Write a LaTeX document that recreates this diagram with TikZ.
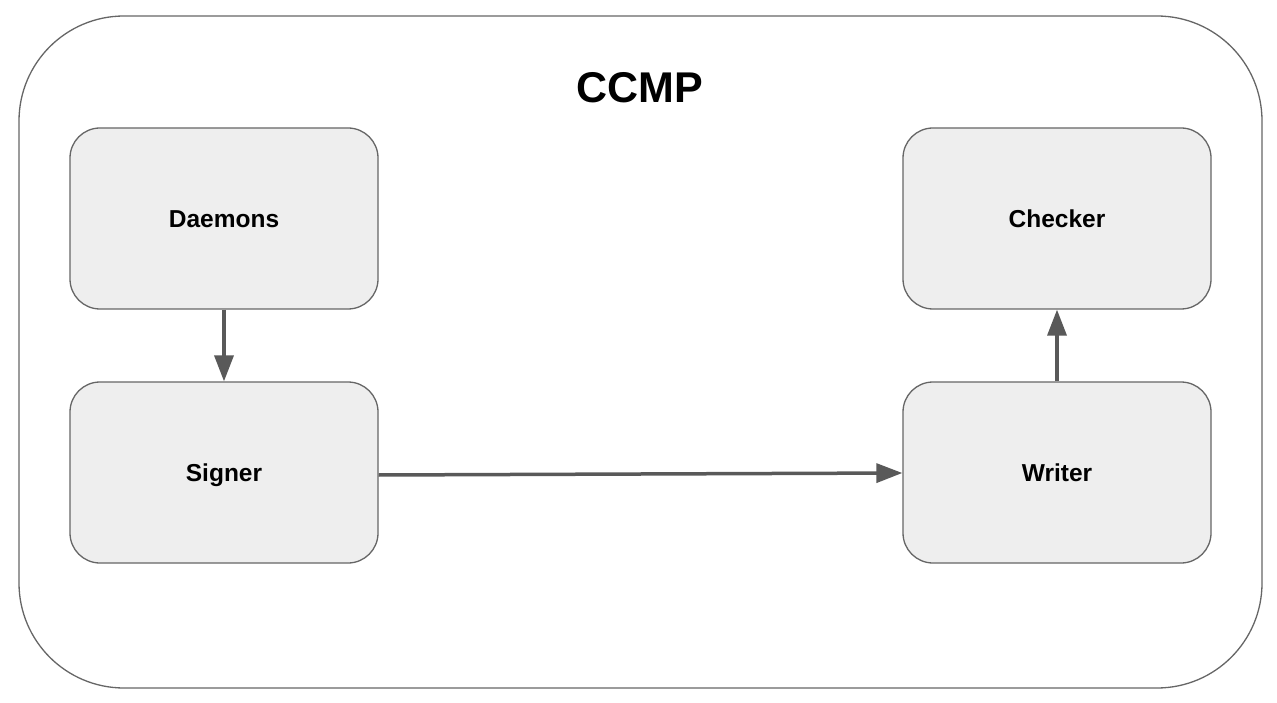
\documentclass[tikz,border=0pt]{standalone}
\usepackage{fontspec}
\setmainfont{Liberation Sans}
\usetikzlibrary{arrows.meta}
\definecolor{boxfill}{HTML}{EEEEEE}
\definecolor{boxline}{HTML}{666666}
\definecolor{arrowc}{HTML}{595959}
\begin{document}
\begin{tikzpicture}[x=1pt,y=-1pt,
  compbox/.style={draw=boxline, line width=1.3pt, fill=boxfill, rounded corners=30pt,
    minimum width=308pt, minimum height=181pt, inner sep=0pt,
    text height=17.5pt, text depth=0pt,
    font=\fontsize{24.5}{28}\selectfont\bfseries},
  conn/.style={draw=arrowc, line width=3.5pt, -{Triangle[length=26pt,width=19pt]}}]
\useasboundingbox (0,0) rectangle (1277,703);
\fill[white] (0,0) rectangle (1277,703);
\draw[boxline, line width=1.3pt, rounded corners=105pt] (19,16) rectangle (1262,688);
\node[font=\fontsize{43}{48}\selectfont\bfseries, text height=31pt, text depth=0pt] (title) at (640,87) {CCMP};
\node[compbox] (daemons) at (224,218.5) {Daemons};
\node[compbox] (signer) at (224,472.5) {Signer};
\node[compbox] (checker) at (1057,218.5) {Checker};
\node[compbox] (writer) at (1057,472.5) {Writer};
\draw[conn] (daemons.south) -- (signer.north);
\draw[conn] ([yshift=-2.5pt]signer.east) -- ([yshift=-0.5pt]writer.west);
\draw[conn] (writer.north) -- (checker.south);
\end{tikzpicture}
\end{document}
